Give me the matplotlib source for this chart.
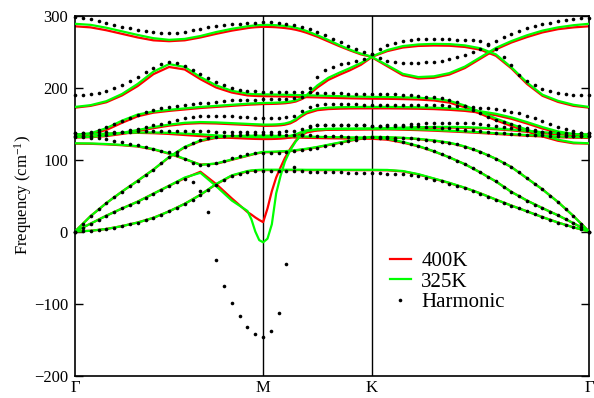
import numpy as np
import matplotlib
matplotlib.use('Agg')
import matplotlib.pyplot as plt

plt.rcParams['font.family'] = ['Liberation Serif', 'DejaVu Serif']
plt.rcParams['mathtext.fontset'] = 'custom'
plt.rcParams['mathtext.rm'] = 'Liberation Serif'
plt.rcParams['mathtext.it'] = 'Liberation Serif:italic'

# high symmetry points along the path (reciprocal lattice units)
path_labels = ['Γ', 'M', 'K', 'Γ']
path_pos = [0.0, 0.5774, 0.9107, 1.5774]

# harmonic bands: 25 pts G-M, 14 pts M-K, 28 pts K-G
harm_b0 = [297.6, 297.0, 295.5, 293.0, 290.0, 287.0, 284.5, 282.5, 280.5, 278.5, 277.0, 275.8, 275.5, 276.0, 277.5, 279.5, 281.5, 283.5, 285.0, 286.5, 287.7, 288.6, 289.4, 290.0, 290.5,
           290.4, 289.8, 288.6, 286.8, 284.5, 281.5, 277.5, 273.0, 268.0, 263.0, 258.0, 254.0, 250.0, 246.5,
           253, 258.5, 262.5, 265, 266.2, 266.7, 267, 267, 267, 266.8, 266.5, 266, 265.3, 264, 261, 254, 243, 231, 217, 209, 203, 198.5, 195.3, 193, 191.3, 190, 189.2, 189]
harm_b1 = [189, 189.5, 190.5, 192.5, 195.5, 199.5, 204, 209, 214.5, 221, 227.5, 232.5, 235, 234, 230.5, 225, 219, 213, 207.5, 203, 199.5, 197, 195.5, 194.7, 194.4,
           194.3, 194.2, 194, 193.8, 193.5, 193.2, 192.8, 192.4, 192, 191.7, 191.5, 191.3, 191.1, 191,
           191, 190.8, 190.5, 190, 189.3, 188.5, 187.5, 186.3, 185, 183, 179.5, 174.5, 169, 164, 159.5, 155.5, 152, 149, 146, 143.5, 141, 138.5, 136.5, 135, 134, 133.2, 132.7, 132.5]
harm_b2 = [136.5, 137, 138, 141, 145, 149.5, 153.5, 157.5, 161.5, 165.5, 169, 171.5, 173.5, 175, 176, 177, 178, 179, 180, 181, 182, 182.6, 183, 183.3, 183.5,
           183.6, 183.8, 184.2, 185, 187.5, 199, 214.5, 224, 229, 232.5, 234.5, 237, 240, 246.5,
           240.5, 237, 235, 234.3, 234.2, 234.4, 235, 236, 237.5, 239.5, 242, 245, 249, 254, 259.5, 265, 270, 274.5, 278.5, 282, 285, 287.8, 290.2, 292.2, 293.8, 295.2, 296.2, 297]
harm_b3 = [132.5, 132.6, 133, 133.5, 134.5, 136.5, 138.5, 140.5, 142.7, 145, 147.5, 149.8, 152, 154.5, 157, 159, 160.3, 161, 161, 160.7, 160.2, 159.5, 158.8, 158.3, 158,
           158.1, 158.3, 158.8, 161, 167.5, 173, 175.8, 176.8, 177, 176.8, 176.6, 176.4, 176.2, 176,
           176, 176, 176, 176, 176, 176, 175.8, 175.6, 175.3, 175, 174.5, 174, 173, 172, 171, 170, 168.5, 166.5, 164, 161, 157.5, 153.5, 149.5, 145.5, 142, 139.3, 137.5, 136.5]
harm_b4 = [137, 137.2, 137.5, 137.8, 138, 138.3, 138.5, 138.7, 138.9, 139, 139.2, 139.3, 139.4, 139.4, 139.3, 139.2, 139, 138.9, 138.8, 138.7, 138.6, 138.5, 138.5, 138.5, 138.5,
           138.5, 138.6, 139, 140, 143, 146, 147.3, 147.7, 147.8, 147.8, 147.7, 147.5, 147.3, 147,
           147.2, 147.5, 148, 148.6, 149.2, 149.8, 150.3, 150.7, 151, 151.2, 151.2, 151, 150.5, 149.5, 148, 146.5, 145, 143.5, 142, 140.7, 139.5, 138.5, 137.7, 137.2, 136.9, 136.7, 136.6, 136.5]
harm_b5 = [131.5, 131.3, 130.5, 129.3, 127.8, 126, 124, 122, 120, 117.5, 115, 112.5, 110, 106, 100.5, 95.5, 92.5, 93, 95, 98.5, 102, 105, 107.3, 108.6, 109,
           109.2, 109.6, 110.3, 111.3, 112.6, 114.3, 116.2, 118.3, 120.6, 123, 125.3, 127.5, 129.5, 131,
           130.9, 130.7, 130.5, 130, 129.3, 128.5, 127.5, 126.3, 125, 123.2, 121, 118, 114.5, 110.5, 106, 101, 95.5, 89.5, 82, 74, 66.5, 58.5, 50, 41, 31.5, 21.5, 10.5, 0]
harm_b6 = [0, 11, 21.5, 31, 39.5, 47.5, 55.5, 63, 70.5, 78, 86, 95, 103.5, 111, 117.5, 122.5, 126.5, 129.5, 131.8, 133.3, 134.2, 134.7, 135, 135, 135,
           135, 134.8, 134.5, 134.2, 133.8, 133.4, 133, 132.6, 132.3, 132, 131.7, 131.5, 131.3, 131,
           130.5, 129.5, 127.5, 125, 122, 119, 115.5, 111.5, 107.5, 103, 98.5, 93.5, 88, 82, 76, 69.5, 62, 55, 49, 43, 37.5, 32.5, 27.5, 22.5, 17, 11.5, 6, 0]
harm_b7 = [0, 5.5, 11, 16.5, 22, 27, 32, 36.5, 41.5, 47, 52.5, 58, 63.5, 69, 72.5, 69, 56, 27, -40, -75, -99, -117, -133, -143, -146.5,
           -138, -113, -45, 89, 134.5, 145, 147.3, 147.7, 147.8, 147.8, 147.7, 147.5, 147.3, 147,
           147, 146.9, 146.8, 146.6, 146.3, 146, 145.5, 145, 144.3, 143.5, 142.6, 141.6, 140.5, 139.5, 138.5, 137.5, 136.6, 135.8, 135, 134.4, 133.9, 133.5, 133.2, 132.9, 132.7, 132.6, 132.5, 132.5]
harm_b8 = [0, 0.3, 1, 2, 3.5, 5.5, 7.5, 10, 12.5, 15.5, 19, 23, 28, 33, 38.5, 44, 50.5, 57.5, 65, 71.5, 76.5, 80, 82.3, 83.5, 84,
           84, 83.9, 83.8, 83.6, 83.4, 83.2, 83, 82.7, 82.4, 82.1, 81.8, 81.5, 81.2, 81,
           80.8, 80.5, 80, 79.2, 78, 76.5, 74.5, 72, 69.5, 66.5, 63.5, 60, 56.5, 52.5, 48.5, 44, 40, 36, 32, 28, 24, 20, 16, 12.5, 9, 5.8, 2.8, 0]

# anharmonic bands: fractions along each segment
t_gm = [0, 1/12, 2/12, 3/12, 4/12, 5/12, 6/12, 7/12, 8/12, 9/12, 10/12, 11/12, 0.9375, 0.9583, 0.9792, 1.0]
t_mk = [0.04, 0.08, 0.12, 0.16, 0.2, 0.25, 0.3, 0.35, 0.4, 0.5, 0.6, 0.7, 0.8, 0.9, 1.0]
t_kg = [1/14, 2/14, 3/14, 4/14, 5/14, 6/14, 7/14, 8/14, 9/14, 10/14, 11/14, 12/14, 13/14, 1.0]

# 400K
r_b0 = [285, 283.5, 279.5, 274.5, 269.5, 265.5, 264.3, 265.5, 269.5, 274.5, 279, 282.5, 283.2, 283.7, 284, 284.3,
        284.2, 284, 283.7, 283.2, 282.6, 281.6, 280.2, 278.3, 276, 270.5, 264, 257.5, 251.5, 246, 242.5,
        250.5, 255.5, 257.7, 258.3, 258, 256.3, 252.5, 244, 226.5, 205, 188.5, 180, 174.5, 172]
r_b1 = [172, 174.5, 179.5, 189, 202, 218.5, 228.5, 225, 211.5, 200, 193, 189, 188.6, 188.3, 188.1, 188,
        187.9, 187.8, 187.7, 187.6, 187.5, 187.3, 187.1, 186.9, 186.6, 186.2, 185.8, 185.4, 185, 184.7, 184.5,
        184.3, 183.9, 183.3, 182, 179, 172.5, 163.5, 154.5, 146.5, 139, 132, 126, 122.5, 122]
r_b2 = [134, 135.5, 141, 151, 160, 165, 167.5, 169.5, 171.5, 173, 174.5, 176, 176.3, 176.5, 176.8, 177,
        177.1, 177.2, 177.4, 177.7, 178.1, 179, 180.5, 183.5, 187.5, 200, 210.5, 217.5, 224, 231.5, 242,
        229.5, 217, 212.5, 213.5, 218, 227, 240, 253, 262.5, 270, 276.5, 281, 283.5, 285]
r_b3 = [130.5, 131, 132.5, 135.5, 139.5, 143.5, 147, 149.5, 150.5, 150, 149, 148, 147.7, 147.3, 147, 146.8,
        146.8, 146.9, 147.1, 147.5, 148.3, 150.2, 154, 159.5, 164, 168.5, 170, 170.6, 170.9, 171, 171,
        171, 170.8, 170.5, 170, 169, 167.5, 165, 161.5, 156.5, 150, 143, 137.5, 134.5, 134]
r_b4 = [134, 134.5, 135.5, 136.5, 137, 136.5, 135.5, 134, 132.5, 131, 130, 129, 128.8, 128.6, 128.5, 128.4,
        128.4, 128.5, 128.7, 129, 129.5, 130.5, 132.5, 135.5, 138.5, 140.5, 141.3, 141.6, 141.8, 141.9, 142,
        142.5, 143.2, 143.8, 144.2, 144.3, 144, 143.2, 142, 140.5, 138.5, 136.5, 135, 134.2, 134]
r_b5 = [122, 121.8, 121, 119.8, 118, 114, 108, 100.5, 93, 94, 99.5, 105, 106.5, 108, 109, 110,
        110.1, 110.3, 110.5, 110.8, 111.1, 111.7, 112.5, 113.5, 114.5, 117, 120, 123, 126, 128.7, 131,
        130.5, 129.8, 128.3, 126.1, 123, 117.8, 110.4, 101, 89.5, 74, 58.5, 41, 21.5, 0]
r_b6 = [0, 21.5, 39.5, 55.5, 70.5, 86, 103, 117, 125.5, 130, 131, 131.3, 131.3, 131.3, 131.3, 131.3,
        131.3, 131.2, 131.1, 131, 130.9, 130.7, 130.5, 130.3, 130.1, 129.8, 129.5, 129.3, 129.1, 129, 128.8,
        127.5, 123.5, 118.3, 111.2, 103, 93.5, 82, 69.5, 55, 43, 32.5, 22.5, 11.5, 0]
r_b7 = [0, 11, 22, 32, 41.5, 52.5, 63.5, 74, 83, 66, 46, 27, 23.5, 19.5, 16, 13,
        32, 56, 75, 89, 102, 115, 126, 133.5, 137.5, 140.5, 141.3, 141.6, 141.8, 141.9, 142,
        141.8, 141.4, 140.8, 140, 139, 138, 136.8, 135.5, 134.2, 133, 132, 131, 130.3, 130]
r_b8 = [0, 1, 3.5, 7.5, 12.5, 19, 28, 38.5, 51, 65.5, 77.5, 83.5, 84.3, 84.8, 85.1, 85.3,
        85.3, 85.3, 85.3, 85.3, 85.3, 85.3, 85.3, 85.3, 85.2, 85.2, 85.2, 85.2, 85.2, 85.2, 85.2,
        85, 83.5, 79.2, 73.3, 67.3, 60.6, 53, 44.3, 36, 28, 20, 12.5, 5.8, 0]

# 325K
g_b0 = [288.5, 287, 283, 278, 273, 268.5, 266.2, 267.5, 271.5, 277, 281.5, 285, 285.7, 286.3, 286.7, 287,
        287, 286.8, 286.5, 286, 285.5, 284.5, 283, 281, 278.5, 272.5, 266, 259, 252.5, 247, 243,
        252, 257.5, 259.8, 260.6, 260.3, 258.5, 254.5, 246, 228, 207, 190, 181.5, 176, 173]
g_b1 = [173, 175.5, 181, 191, 205, 222, 232.5, 228.5, 214.5, 203, 195.5, 191.5, 191, 190.8, 190.6, 190.5,
        190.4, 190.3, 190.2, 190.1, 190, 189.8, 189.6, 189.4, 189.2, 188.8, 188.4, 188, 187.6, 187.3, 187,
        186.8, 186.4, 185.8, 184.5, 181.5, 175, 166, 157, 149, 141.5, 134, 127.5, 123.5, 122.5]
g_b2 = [134.5, 136.5, 143.5, 154, 162.5, 166.5, 169, 171, 173, 174.5, 176, 177.5, 177.8, 178, 178.3, 178.5,
        178.6, 178.7, 178.9, 179.2, 179.6, 180.5, 182, 185, 189.5, 203, 213.5, 220.5, 227, 234, 242.5,
        231, 219, 214.5, 215.5, 220, 229, 242, 255, 264.5, 272.5, 279, 283.5, 286.5, 288.5]
g_b3 = [131, 131.5, 133.5, 137, 141, 145, 148.5, 151, 152, 151.5, 150.5, 149.5, 149.2, 149, 148.8, 148.5,
        148.5, 148.6, 148.8, 149.2, 150, 152, 156, 161.5, 166, 170.5, 172, 172.6, 172.9, 173, 173,
        173, 172.8, 172.5, 172, 171, 169.5, 167, 163.5, 158.5, 152, 145, 139, 135.5, 134.5]
g_b4 = [134.5, 135, 136, 137, 137.5, 137.5, 137, 136, 135, 133.5, 132.5, 131.5, 131.3, 131.2, 131.1, 131,
        131, 131.1, 131.3, 131.6, 132, 133, 135, 138, 140.5, 142, 142.5, 142.6, 142.7, 142.8, 143,
        143.5, 144.2, 144.8, 145.2, 145.3, 145, 144.2, 143, 141.5, 139.8, 138, 136.5, 135.3, 134.5]
g_b5 = [122.5, 122.3, 121.5, 120.3, 118.5, 114.5, 108.5, 101, 92.5, 94.5, 100, 105.5, 107, 108.5, 109.5, 110.5,
        110.6, 110.8, 111, 111.3, 111.6, 112.2, 113, 114, 115, 117.5, 120.5, 123.5, 126.5, 129.3, 131.5,
        131, 130.2, 128.7, 126.5, 123.4, 118.2, 110.6, 101, 89.5, 74, 58.5, 41, 21.5, 0]
g_b6 = [0, 21.5, 39.5, 55.5, 70.5, 86, 103.5, 117.5, 126.5, 131, 132.5, 133, 133, 133, 133, 133,
        133, 132.9, 132.8, 132.7, 132.6, 132.4, 132.2, 132, 131.8, 131.5, 131.2, 131, 130.8, 130.6, 130.5,
        128.8, 124.5, 118.8, 111.5, 103, 93.5, 82, 69.5, 55, 43, 32.5, 22.5, 11.5, 0]
g_b7 = [0, 11, 22, 32, 41.5, 52.5, 63.5, 75, 81.5, 63, 43, 28.5, 17, 0, -12, -15,
        -10, 10, 53, 77, 97, 113, 125, 134, 139.5, 142, 142.5, 142.6, 142.7, 142.8, 143,
        142.8, 142.4, 141.8, 141, 140, 139, 137.8, 136.5, 135.2, 134, 133, 132, 131.3, 131]
g_b8 = [0, 1, 3.5, 7.5, 12.5, 19, 28, 38.5, 51, 66, 78, 84, 84.8, 85.3, 85.6, 85.8,
        85.8, 85.8, 85.8, 85.8, 85.8, 85.8, 85.8, 85.8, 85.7, 85.7, 85.7, 85.7, 85.7, 85.7, 85.7,
        85.5, 84, 79.7, 73.7, 67.7, 60.8, 53, 44.3, 36, 28, 20, 12.5, 5.8, 0]

harmonic = [harm_b0, harm_b1, harm_b2, harm_b3, harm_b4, harm_b5, harm_b6, harm_b7, harm_b8]
bands_400 = [r_b0, r_b1, r_b2, r_b3, r_b4, r_b5, r_b6, r_b7, r_b8]
bands_325 = [g_b0, g_b1, g_b2, g_b3, g_b4, g_b5, g_b6, g_b7, g_b8]

kG, kM, kK, kG2 = path_pos
k_harm = np.concatenate([kG + (kM - kG) * np.linspace(0, 1, 25),
                         kM + (kK - kM) * np.linspace(0, 1, 15)[1:],
                         kK + (kG2 - kK) * np.linspace(0, 1, 29)[1:]])
k_anh = np.concatenate([kG + (kM - kG) * np.array(t_gm),
                        kM + (kK - kM) * np.array(t_mk),
                        kK + (kG2 - kK) * np.array(t_kg)])

fig = plt.figure(figsize=(5.94, 3.98), dpi=100)
ax = fig.add_axes([75 / 594, 22.5 / 398, 514 / 594, 360 / 398])

for xv in path_pos[1:3]:
    ax.axvline(xv, color='black', lw=1.0, zorder=1)

for i in range(9):
    ax.plot(k_anh, bands_400[i], color='red', lw=1.6, zorder=2,
            label='400K' if i == 0 else None)
    ax.plot(k_anh, bands_325[i], color='#00ff00', lw=1.6, zorder=3,
            label='325K' if i == 0 else None)
    ax.plot(k_harm, harmonic[i], 'o', ms=2.6, color='black', mec='none', zorder=4,
            clip_on=False, label='Harmonic' if i == 0 else None)

ax.set_xlim(kG, kG2)
ax.set_ylim(-200, 300)
ax.set_xticks(path_pos)
ax.set_xticklabels(path_labels, fontsize=12)
ax.tick_params(axis='x', length=0, pad=3)
ax.set_yticks([-200, -100, 0, 100, 200, 300])
ax.tick_params(axis='y', direction='in', length=6, width=1.0, labelsize=12,
               left=True, right=True, pad=5)
for s in ax.spines.values():
    s.set_linewidth(1.2)
ax.set_ylabel('Frequency (cm$^{-1}$)', fontsize=12, labelpad=0)

ax.legend(loc='upper left', bbox_to_anchor=(0.613, 0.345), frameon=False,
          fontsize=15, handlelength=1.0, handletextpad=0.5, labelspacing=0.05,
          borderpad=0, borderaxespad=0, markerscale=1.0)

fig.savefig('out.png', dpi=100)
